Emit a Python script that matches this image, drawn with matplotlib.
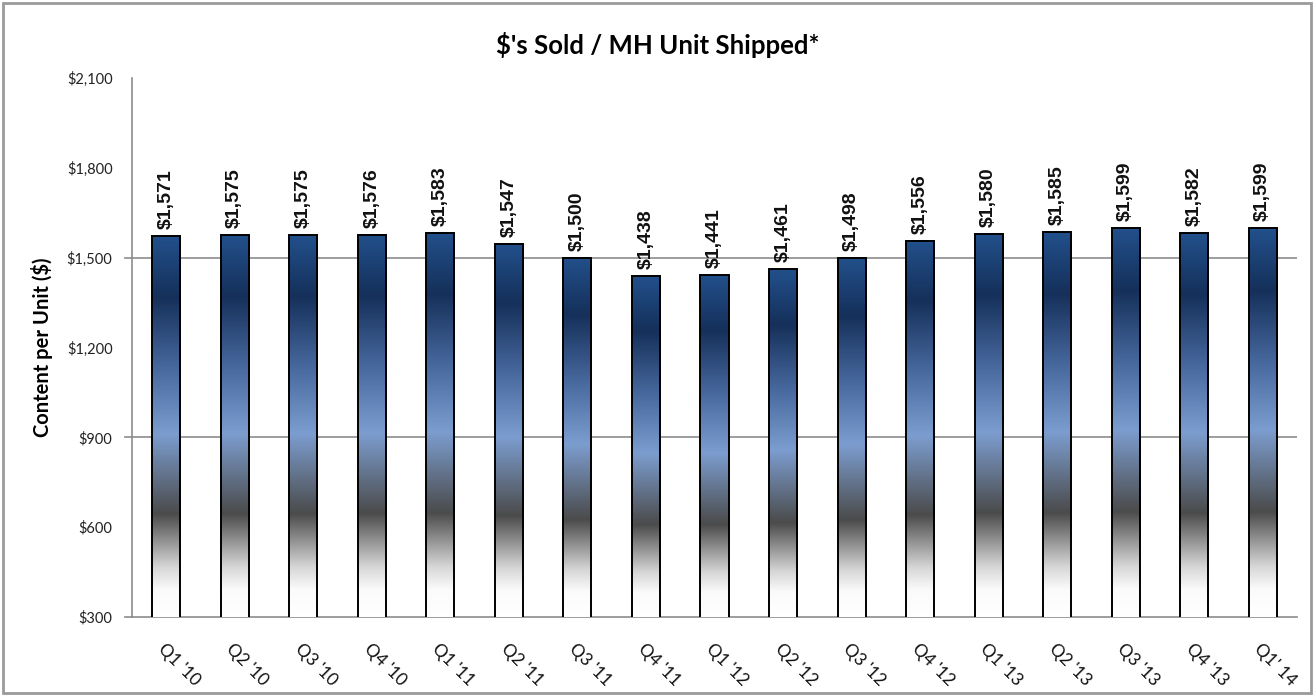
import matplotlib.pyplot as plt
import numpy as np
import matplotlib.colors as mcolors
from matplotlib.patches import Rectangle

# data
quarters = ["Q1 '10", "Q2 '10", "Q3 '10", "Q4 '10", "Q1 '11", "Q2 '11", "Q3 '11",
            "Q4 '11", "Q1 '12", "Q2 '12", "Q3 '12", "Q4 '12", "Q1 '13", "Q2 '13",
            "Q3 '13", "Q4 '13", "Q1' 14"]
content_per_unit = [1571, 1575, 1575, 1576, 1583, 1547, 1500, 1438, 1441, 1461,
                    1498, 1556, 1580, 1585, 1599, 1582, 1599]
y_ticks = [300, 600, 900, 1200, 1500, 1800, 2100]
y_grid = [900, 1500]

# gradient of the bars (bottom -> top)
grad = mcolors.LinearSegmentedColormap.from_list("bar_grad", [
    (0.00, '#ffffff'),
    (0.07, '#fbfbfb'),
    (0.13, '#d6d6d6'),
    (0.27, '#4b4b4b'),
    (0.48, '#7c9dcf'),
    (0.66, '#46679c'),
    (0.84, '#15305a'),
    (1.00, '#22508b'),
])

fig = plt.figure(figsize=(13.15, 6.98), dpi=100)
ax = fig.add_axes([132 / 1315, 81 / 698, 1165 / 1315, 539 / 698])

ymin, ymax = 300, 2100
x = np.arange(len(quarters))
width = 0.41

bars = ax.bar(x, content_per_unit, width=width, bottom=0, facecolor='none',
              edgecolor='black', linewidth=1.4, zorder=4)

# fill each bar with the vertical gradient
g = np.linspace(0, 1, 256).reshape(-1, 1)
for bar, v in zip(bars, content_per_unit):
    x0 = bar.get_x()
    ax.imshow(g, cmap=grad, origin='lower', aspect='auto',
              extent=[x0, x0 + width, ymin, v], zorder=3, interpolation='bicubic')
    ax.annotate(f'${v:,}', xy=(bar.get_x() + width / 2, v), xytext=(0, 5),
                textcoords='offset points', rotation=90, ha='center', va='bottom',
                fontsize=14, fontweight='bold', fontfamily='Liberation Sans',
                color='#111111')

ax.set_xlim(-0.5, len(quarters) - 0.5)
ax.set_ylim(ymin, ymax)

for gy in y_grid:
    ax.axhline(gy, color='#8c8c8c', linewidth=1.2, zorder=1)

ax.set_yticks(y_ticks)
ax.set_yticklabels([f'${t:,}' for t in y_ticks], fontsize=10.5,
                   fontfamily='Lato', color='#222222')
ax.tick_params(axis='y', length=0, pad=14)
# small tick marks at the major gridline levels
for ty in [300, 900, 1500]:
    ax.plot([-0.5 - 0.1, -0.5], [ty, ty], color='#8c8c8c', linewidth=1.2,
            clip_on=False, zorder=1)

ax.set_xticks(x)
ax.set_xticklabels(quarters, rotation=-45, ha='left', va='top',
                   rotation_mode='anchor', fontsize=12.5, fontfamily='Lato',
                   color='#111111')
ax.tick_params(axis='x', length=0, pad=17)

for s in ['top', 'right']:
    ax.spines[s].set_visible(False)
for s in ['left', 'bottom']:
    ax.spines[s].set_color('#8c8c8c')
    ax.spines[s].set_linewidth(1.2)

ax.set_ylabel('Content per Unit ($)', fontsize=14.5, fontfamily='Lato',
              fontweight='bold', labelpad=14)
ax.yaxis.set_label_coords(-0.068, 0.5)

fig.text(0.5, 1 - 45 / 698, "$'s Sold / MH Unit Shipped*", ha='center', va='center',
         fontsize=18.5, fontfamily='Lato', fontweight='bold')

# outer chart frame
fig.patches.append(Rectangle((3 / 1315, 5 / 698), 1308 / 1315, 690 / 698,
                             transform=fig.transFigure, fill=False,
                             edgecolor='#9a9a9a', linewidth=2))

fig.savefig('out.png', dpi=100)
